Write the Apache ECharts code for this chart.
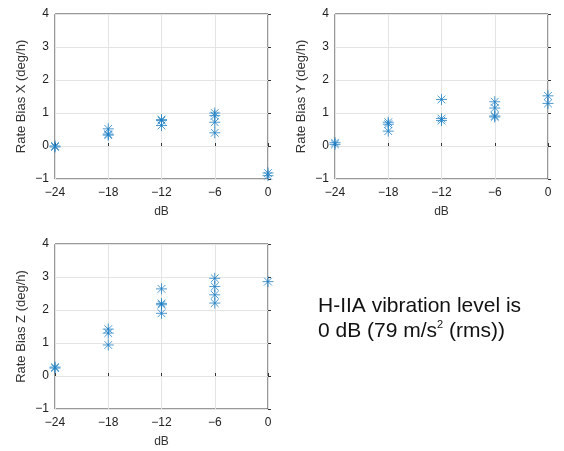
<!DOCTYPE html>
<html>
<head>
<meta charset="utf-8">
<script src="https://cdn.jsdelivr.net/npm/echarts@6/dist/echarts.min.js"></script>
<style>
  html, body { margin: 0; padding: 0; background: #fff; }
  #main { width: 564px; height: 451px; }
</style>
</head>
<body>
<div id="main"></div>
<script>
// dB levels and rate bias readings, one pair list per axis
var xTicks = [-24, -18, -12, -6, 0]
var biasX = [
  [-24, -0.03], [-24, 0.0],
  [-18, 0.52], [-18, 0.36], [-18, 0.33],
  [-12, 0.8], [-12, 0.77], [-12, 0.62],
  [-6, 1.0], [-6, 0.92], [-6, 0.72], [-6, 0.4],
  [0, -0.82], [0, -0.9]
]
var biasY = [
  [-24, 0.1], [-24, 0.05],
  [-18, 0.72], [-18, 0.66], [-18, 0.45],
  [-12, 1.41], [-12, 0.83], [-12, 0.77],
  [-6, 1.34], [-6, 1.15], [-6, 0.91], [-6, 0.88],
  [0, 1.52], [0, 1.29]
]
var biasZ = [
  [-24, 0.24], [-24, 0.27],
  [-18, 1.42], [-18, 1.3], [-18, 0.94],
  [-12, 2.64], [-12, 2.2], [-12, 2.16], [-12, 1.9],
  [-6, 2.96], [-6, 2.71], [-6, 2.46], [-6, 2.21],
  [0, 2.86]
]
var yNames = ['Rate Bias X (deg/h)', 'Rate Bias Y (deg/h)', 'Rate Bias Z (deg/h)']

var chart = echarts.init(document.getElementById('main'))
var blue = '#1f7fc4'
var star = 'path://M0,-1L0,1M-1,0L1,0M-0.7,-0.7L0.7,0.7M-0.7,0.7L0.7,-0.7'
var grids = [
  { left: 55, top: 14, width: 213, height: 165 },
  { left: 335, top: 14, width: 213, height: 165 },
  { left: 55, top: 244, width: 213, height: 165 }
]
function fmt (v) {
  return String(v).replace('-', '\u2212')
}
var xAxes = []
var yAxes = []
var series = []
var datas = [biasX, biasY, biasZ]
for (let i = 0; i < 3; i++) {
  grids[i].show = true
  grids[i].borderColor = '#333'
  grids[i].borderWidth = 1
  xAxes.push({
    gridIndex: i,
    type: 'value',
    min: -24,
    max: 0,
    interval: 6,
    name: 'dB',
    nameLocation: 'middle',
    nameGap: 27,
    nameTextStyle: { color: '#333', fontSize: 12, fontFamily: 'Liberation Sans' },
    axisLine: { show: false },
    axisTick: { show: true, inside: true, length: 3, lineStyle: { color: '#333' } },
    axisLabel: { color: '#222', fontSize: 12, fontFamily: 'Liberation Sans', margin: 8, formatter: fmt },
    splitLine: { show: true, lineStyle: { color: '#e4e4e4' } }
  })
  yAxes.push({
    gridIndex: i,
    type: 'value',
    min: -1,
    max: 4,
    interval: 1,
    name: yNames[i],
    nameLocation: 'middle',
    nameGap: 27,
    nameTextStyle: { color: '#333', fontSize: 13, fontFamily: 'Liberation Sans' },
    axisLine: { show: false },
    axisTick: { show: true, inside: true, length: 3, lineStyle: { color: '#333' } },
    axisLabel: { color: '#222', fontSize: 12, fontFamily: 'Liberation Sans', margin: 6, formatter: fmt },
    splitLine: { show: true, lineStyle: { color: '#e4e4e4' } }
  })
  series.push({
    type: 'scatter',
    xAxisIndex: i,
    yAxisIndex: i,
    data: datas[i],
    symbol: star,
    symbolSize: 11,
    itemStyle: { color: 'none', borderColor: blue, borderWidth: 1 },
    silent: true
  })
}

chart.setOption({
  animation: false,
  grid: grids,
  xAxis: xAxes,
  yAxis: yAxes,
  series: series,
  graphic: [{
    type: 'text',
    left: 318,
    top: 294,
    style: {
      text: 'H-IIA vibration level is\n0 dB (79 m/s{sup|2} (rms))',
      fontSize: 21,
      lineHeight: 25,
      fontFamily: 'Liberation Sans',
      fill: '#111',
      rich: {
        sup: { fontSize: 11, verticalAlign: 'top', lineHeight: 25, padding: [0, 0, 9, 0] }
      }
    }
  }]
})
</script>
</body>
</html>
